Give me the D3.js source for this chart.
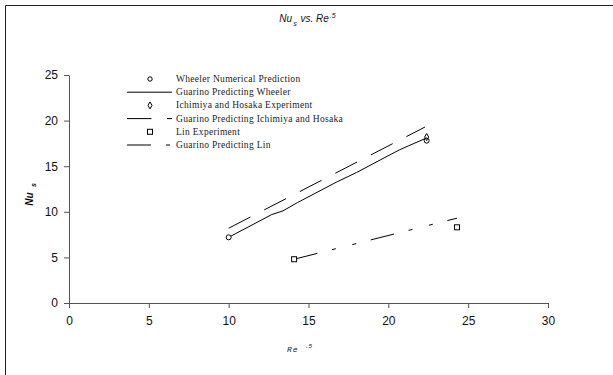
<!DOCTYPE html>
<html>
<head>
<meta charset="utf-8">
<script src="https://cdn.jsdelivr.net/npm/d3@7"></script>
<style>
  body { margin: 0; background: #fff; overflow: hidden; }
  svg { display: block; }
  .tick text { font-family: Arial, "Liberation Sans", sans-serif; font-size: 12px; fill: #111; }
  .tick line, .domain { stroke: #555; }
  .legend text { font-family: "Liberation Serif", "DejaVu Serif", serif; font-size: 9.5px; letter-spacing: 0.3px; fill: #222; }
  .ttl { font-family: Arial, "Liberation Sans", sans-serif; font-style: italic; fill: #111; }
</style>
</head>
<body>
<div id="chart"></div>
<script>
// values
const xTicks = [0, 5, 10, 15, 20, 25, 30];
const yTicks = [0, 5, 10, 15, 20, 25];

const wheelerX = [10, 22.4];
const wheelerY = [7.2, 17.8];

const guarinoWheelerX = [10, 12.7, 13.4, 14.3, 16.8, 18, 20.7, 22.4];
const guarinoWheelerY = [7.2, 9.7, 10.1, 11.0, 13.3, 14.3, 16.8, 18.1];

const ichimiyaX = [22.4];
const ichimiyaY = [18.2];

const guarinoIchimiyaX = [10, 22.3];
const guarinoIchimiyaY = [8.2, 19.3];

const linX = [14.1, 24.3];
const linY = [4.8, 8.3];

const guarinoLinX = [14.1, 24.3];
const guarinoLinY = [4.8, 9.3];

const legendLabels = [
  'Wheeler Numerical Prediction',
  'Guarino Predicting Wheeler',
  'Ichimiya and Hosaka Experiment',
  'Guarino Predicting Ichimiya and Hosaka',
  'Lin Experiment',
  'Guarino  Predicting Lin'
];

const width = 613, height = 375;
const margin = { top: 75, right: 65, bottom: 72, left: 69 };
const innerWidth = width - margin.left - margin.right;
const innerHeight = height - margin.top - margin.bottom;

const svg = d3.select('#chart').append('svg')
  .attr('width', width)
  .attr('height', height);

// outer frame, only left and top edges show in the original
svg.append('path')
  .attr('d', `M5.5,${height} V5.5 H${width}`)
  .attr('fill', 'none')
  .attr('stroke', '#222');

const xScale = d3.scaleLinear().domain([0, 30]).range([0, innerWidth]);
const yScale = d3.scaleLinear().domain([0, 25]).range([innerHeight, 0]);

const g = svg.append('g')
  .attr('transform', `translate(${margin.left},${margin.top})`);

g.append('g')
  .attr('transform', `translate(0,${innerHeight})`)
  .call(d3.axisBottom(xScale).tickValues(xTicks).tickSize(5).tickSizeOuter(0).tickPadding(8));

g.append('g')
  .call(d3.axisLeft(yScale).tickValues(yTicks).tickSize(5).tickSizeOuter(0).tickPadding(6));

// chart title, pieces placed one after another
const titleParts = [
  { t: 'Nu', size: 10, dy: 0 },
  { t: 's', size: 7, dy: 4 },
  { t: ' vs. Re', size: 10, dy: 0 },
  { t: '.5', size: 7, dy: -4 }
];
const titleG = svg.append('g');
let tx = 0;
titleParts.forEach(p => {
  const el = titleG.append('text')
    .attr('class', 'ttl')
    .attr('x', tx).attr('y', 22 + p.dy)
    .style('font-size', p.size + 'px')
    .style('white-space', 'pre')
    .text(p.t);
  tx += el.node().getComputedTextLength() + 1;
});
titleG.attr('transform', `translate(${308 - tx / 2},0)`);

// y axis title
const yTitle = svg.append('g').attr('transform', 'translate(33,193) rotate(-90)');
yTitle.append('text').attr('class', 'ttl')
  .attr('x', -6).attr('y', 0)
  .attr('text-anchor', 'middle')
  .style('font-weight', 'bold').style('font-size', '10px')
  .text('Nu');
yTitle.append('text').attr('class', 'ttl')
  .attr('x', 6).attr('y', 3)
  .style('font-weight', 'bold').style('font-size', '7px')
  .text('s');

// x axis title
svg.append('text')
  .attr('x', 287).attr('y', 352)
  .style('font-family', '"Liberation Mono", monospace')
  .style('font-style', 'italic')
  .style('font-size', '8px')
  .style('letter-spacing', '1px')
  .attr('fill', '#222')
  .text('Re');
svg.append('text')
  .attr('x', 305).attr('y', 348)
  .style('font-family', '"Liberation Mono", monospace')
  .style('font-style', 'italic')
  .style('font-size', '6px')
  .attr('fill', '#222')
  .text('.5');

const line = d3.line()
  .x(d => xScale(d[0]))
  .y(d => yScale(d[1]));

const pts = (xs, ys) => xs.map((x, i) => [x, ys[i]]);

g.append('path')
  .datum(pts(guarinoWheelerX, guarinoWheelerY))
  .attr('d', line)
  .attr('fill', 'none').attr('stroke', '#000').attr('stroke-width', 1);

g.append('path')
  .datum(pts(guarinoIchimiyaX, guarinoIchimiyaY))
  .attr('d', line)
  .attr('fill', 'none').attr('stroke', '#000').attr('stroke-width', 1)
  .attr('stroke-dasharray', '24.5,15.5');

g.append('path')
  .datum(pts(guarinoLinX, guarinoLinY))
  .attr('d', line)
  .attr('fill', 'none').attr('stroke', '#000').attr('stroke-width', 1)
  .attr('stroke-dasharray', '24,15,4,17,4,15');

// markers
g.selectAll('.wheeler').data(pts(wheelerX, wheelerY))
  .enter().append('circle')
  .attr('cx', d => xScale(d[0]))
  .attr('cy', d => yScale(d[1]))
  .attr('r', 2.5)
  .attr('fill', '#fff').attr('stroke', '#000');

const diamond = d3.symbol().type(d3.symbolDiamond).size(14);
g.selectAll('.ichimiya').data(pts(ichimiyaX, ichimiyaY))
  .enter().append('path')
  .attr('d', diamond)
  .attr('transform', d => `translate(${xScale(d[0])},${yScale(d[1])})`)
  .attr('fill', 'none').attr('stroke', '#000');

g.selectAll('.lin').data(pts(linX, linY))
  .enter().append('rect')
  .attr('x', d => xScale(d[0]) - 2.5)
  .attr('y', d => yScale(d[1]) - 2.5)
  .attr('width', 5).attr('height', 5)
  .attr('fill', '#fff').attr('stroke', '#000');

// legend
const legend = svg.append('g').attr('class', 'legend');
const rowY = i => 79 + i * 13.2;
const styles = [
  { kind: 'circle' },
  { kind: 'line', dash: null },
  { kind: 'diamond' },
  { kind: 'line', dash: '24.5,15.5' },
  { kind: 'square' },
  { kind: 'line', dash: '24,15,4,17,4,15' }
];

styles.forEach((s, i) => {
  const y = rowY(i);
  if (s.kind === 'line') {
    legend.append('line')
      .attr('x1', 127).attr('x2', 172)
      .attr('y1', y).attr('y2', y)
      .attr('stroke', '#000')
      .attr('stroke-dasharray', s.dash);
  } else if (s.kind === 'circle') {
    legend.append('circle').attr('cx', 150).attr('cy', y).attr('r', 2.2)
      .attr('fill', '#fff').attr('stroke', '#000');
  } else if (s.kind === 'diamond') {
    legend.append('path').attr('d', diamond)
      .attr('transform', `translate(150,${y})`)
      .attr('fill', 'none').attr('stroke', '#000');
  } else {
    legend.append('rect').attr('x', 147.5).attr('y', y - 2.5)
      .attr('width', 5).attr('height', 5)
      .attr('fill', '#fff').attr('stroke', '#000');
  }
  legend.append('text')
    .attr('x', 176).attr('y', y + 3)
    .text(legendLabels[i]);
});
</script>
</body>
</html>
